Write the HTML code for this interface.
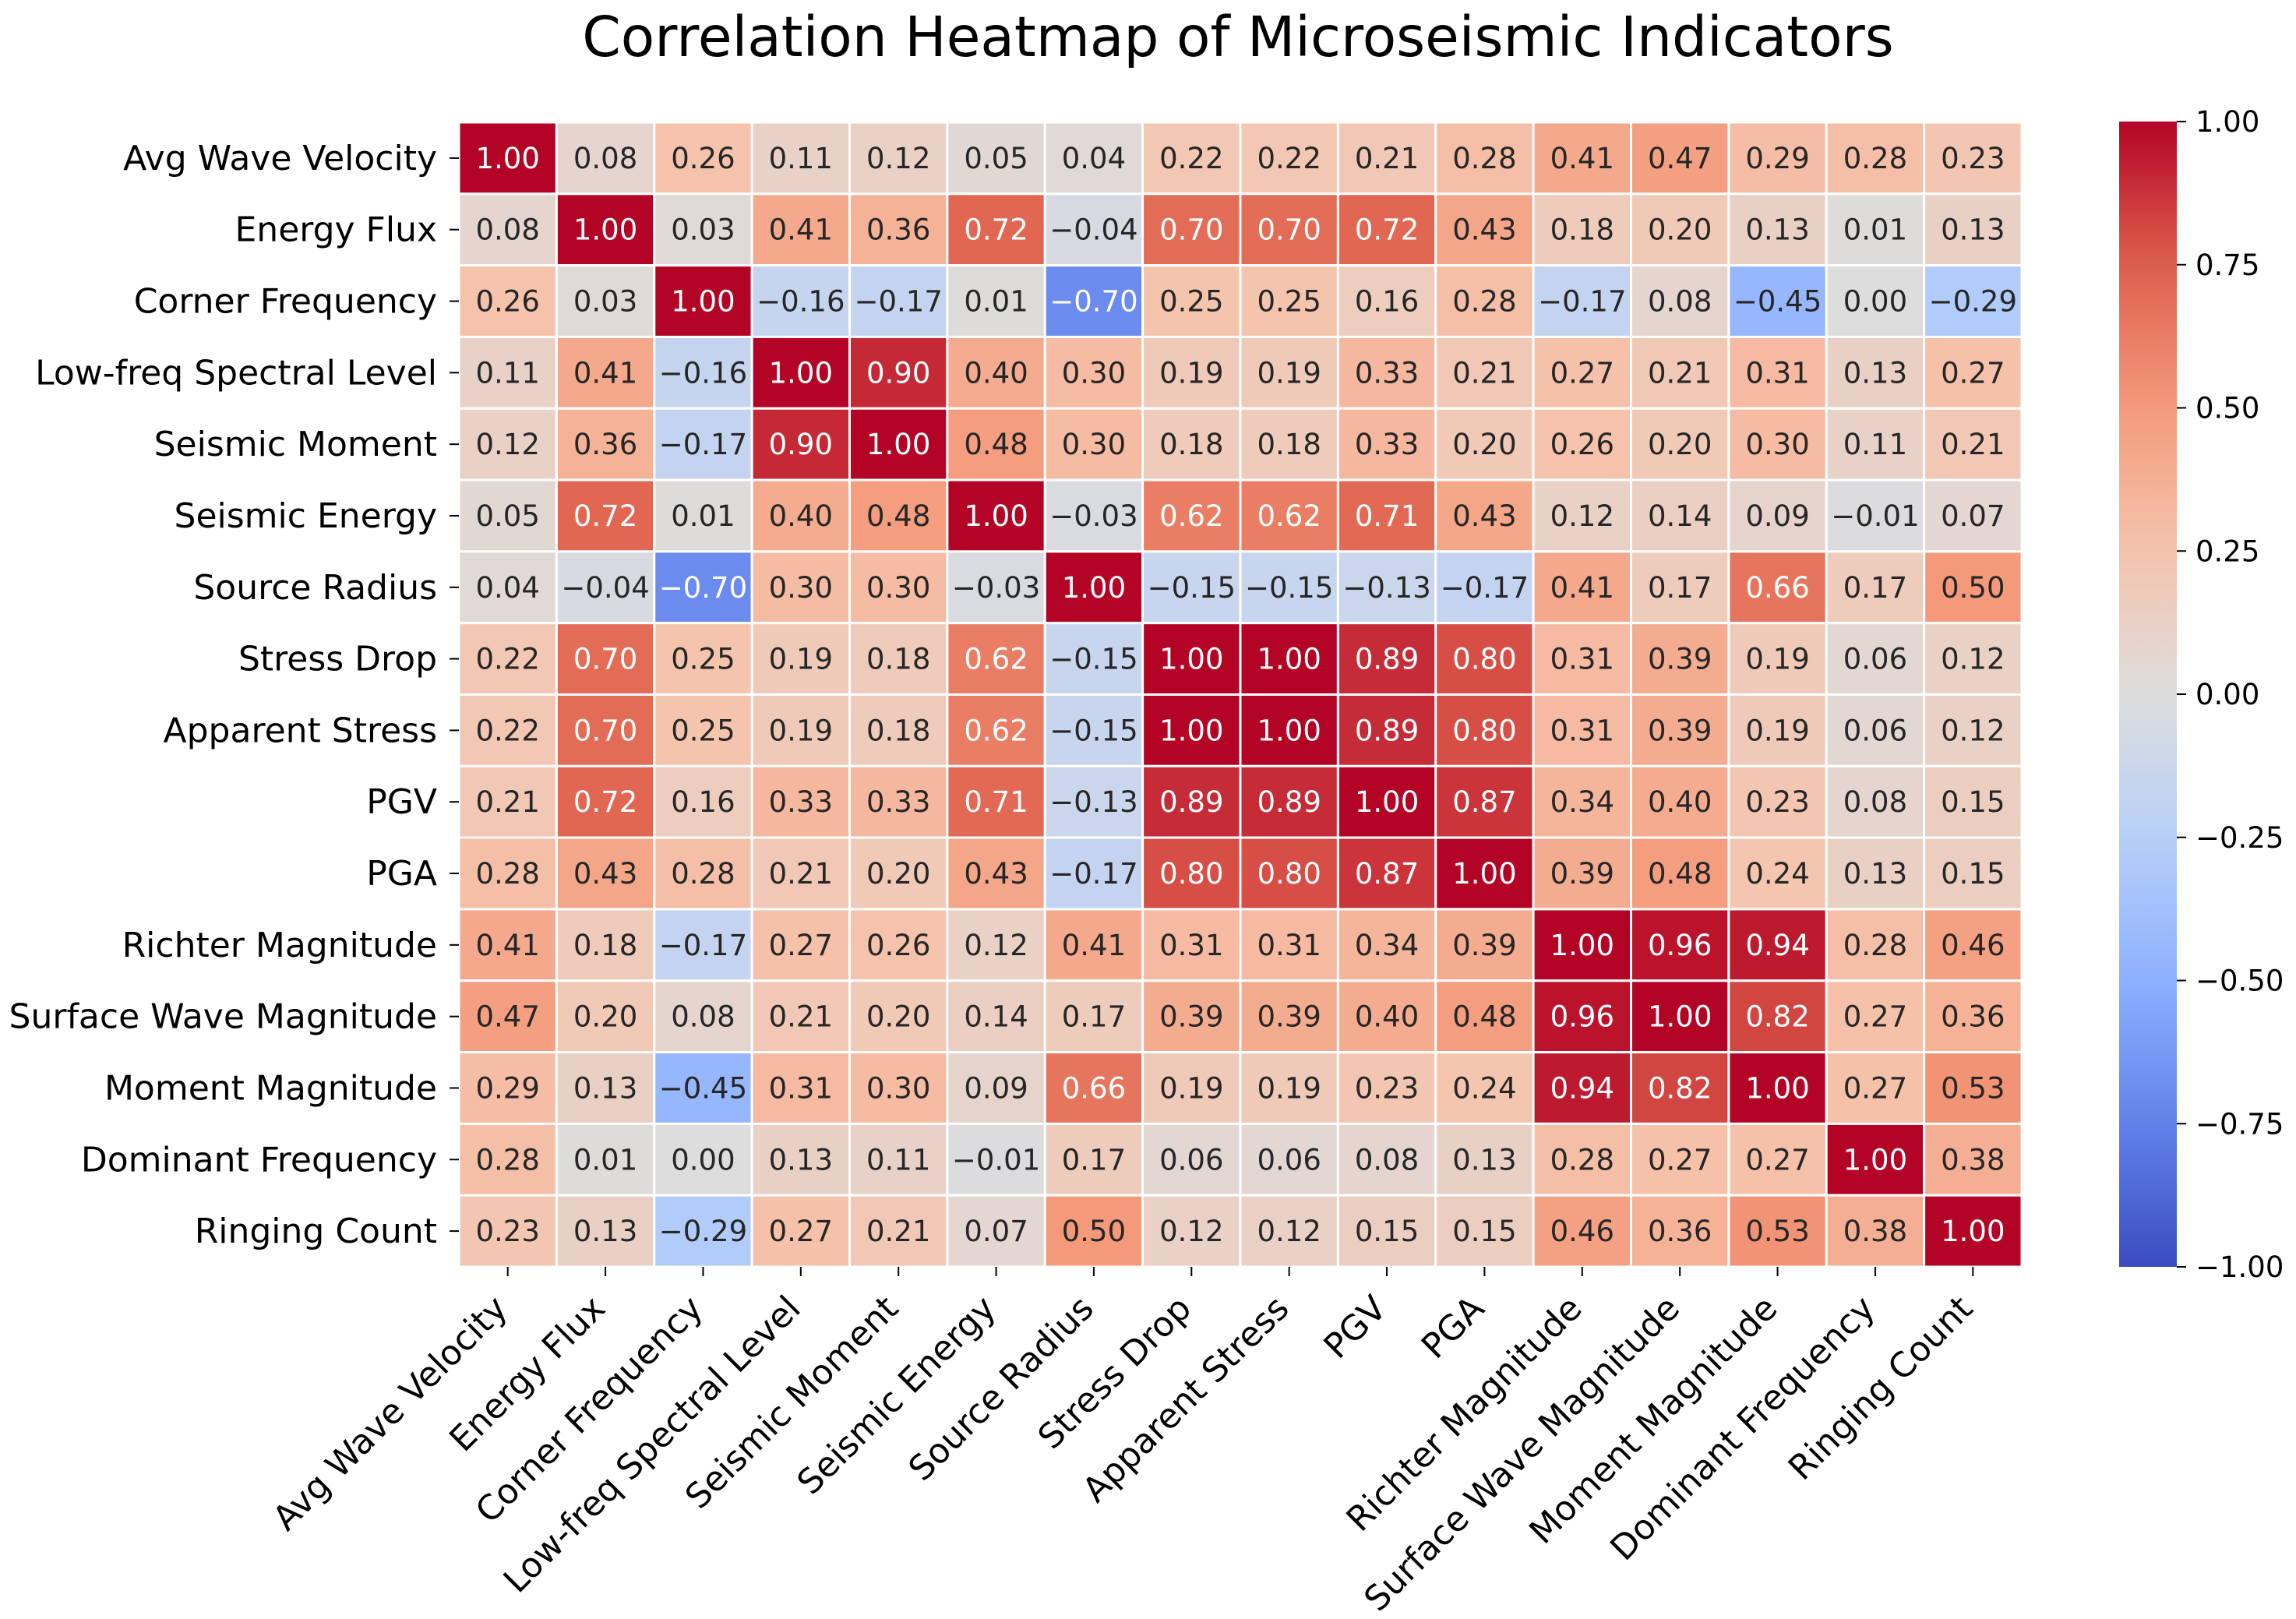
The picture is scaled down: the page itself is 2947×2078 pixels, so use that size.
<!DOCTYPE html>
<html><head><meta charset="utf-8"><style>
html,body{margin:0;padding:0;background:#fff;}
svg{display:block;font-family:"DejaVu Sans","Liberation Sans",sans-serif;}
</style></head><body>
<svg id="chart" width="2947" height="2078" viewBox="0 0 2947 2078" xmlns="http://www.w3.org/2000/svg">
<text x="1589" y="72" font-size="71" text-anchor="middle" fill="#000">Correlation Heatmap of Microseismic Indicators</text>
<g id="cells"></g>
<g id="ylabels"></g>
<g id="xlabels"></g>
<defs><linearGradient id="cbgrad" x1="0" y1="1" x2="0" y2="0"></linearGradient></defs>
<rect x="2720" y="156" width="74" height="1470" fill="url(#cbgrad)"/>
<g id="cbticks"></g>
</svg>
<script>
const labels = ["Avg Wave Velocity","Energy Flux","Corner Frequency","Low-freq Spectral Level","Seismic Moment","Seismic Energy","Source Radius","Stress Drop","Apparent Stress","PGV","PGA","Richter Magnitude","Surface Wave Magnitude","Moment Magnitude","Dominant Frequency","Ringing Count"];
const row0 = [1.00,0.08,0.26,0.11,0.12,0.05,0.04,0.22,0.22,0.21,0.28,0.41,0.47,0.29,0.28,0.23];
const row1 = [0.08,1.00,0.03,0.41,0.36,0.72,-0.04,0.70,0.70,0.72,0.43,0.18,0.20,0.13,0.01,0.13];
const row2 = [0.26,0.03,1.00,-0.16,-0.17,0.01,-0.70,0.25,0.25,0.16,0.28,-0.17,0.08,-0.45,0.00,-0.29];
const row3 = [0.11,0.41,-0.16,1.00,0.90,0.40,0.30,0.19,0.19,0.33,0.21,0.27,0.21,0.31,0.13,0.27];
const row4 = [0.12,0.36,-0.17,0.90,1.00,0.48,0.30,0.18,0.18,0.33,0.20,0.26,0.20,0.30,0.11,0.21];
const row5 = [0.05,0.72,0.01,0.40,0.48,1.00,-0.03,0.62,0.62,0.71,0.43,0.12,0.14,0.09,-0.01,0.07];
const row6 = [0.04,-0.04,-0.70,0.30,0.30,-0.03,1.00,-0.15,-0.15,-0.13,-0.17,0.41,0.17,0.66,0.17,0.50];
const row7 = [0.22,0.70,0.25,0.19,0.18,0.62,-0.15,1.00,1.00,0.89,0.80,0.31,0.39,0.19,0.06,0.12];
const row8 = [0.22,0.70,0.25,0.19,0.18,0.62,-0.15,1.00,1.00,0.89,0.80,0.31,0.39,0.19,0.06,0.12];
const row9 = [0.21,0.72,0.16,0.33,0.33,0.71,-0.13,0.89,0.89,1.00,0.87,0.34,0.40,0.23,0.08,0.15];
const row10 = [0.28,0.43,0.28,0.21,0.20,0.43,-0.17,0.80,0.80,0.87,1.00,0.39,0.48,0.24,0.13,0.15];
const row11 = [0.41,0.18,-0.17,0.27,0.26,0.12,0.41,0.31,0.31,0.34,0.39,1.00,0.96,0.94,0.28,0.46];
const row12 = [0.47,0.20,0.08,0.21,0.20,0.14,0.17,0.39,0.39,0.40,0.48,0.96,1.00,0.82,0.27,0.36];
const row13 = [0.29,0.13,-0.45,0.31,0.30,0.09,0.66,0.19,0.19,0.23,0.24,0.94,0.82,1.00,0.27,0.53];
const row14 = [0.28,0.01,0.00,0.13,0.11,-0.01,0.17,0.06,0.06,0.08,0.13,0.28,0.27,0.27,1.00,0.38];
const row15 = [0.23,0.13,-0.29,0.27,0.21,0.07,0.50,0.12,0.12,0.15,0.15,0.46,0.36,0.53,0.38,1.00];
const matrix = [row0,row1,row2,row3,row4,row5,row6,row7,row8,row9,row10,row11,row12,row13,row14,row15];
const cbTicks = [1.00,0.75,0.50,0.25,0.00,-0.25,-0.50,-0.75,-1.00];

const NS="http://www.w3.org/2000/svg";
const X0=589,Y0=157,X1=2595,Y1=1626;
const n=labels.length, cw=(X1-X0)/n, ch=(Y1-Y0)/n;
const xPos=i=>X0+i*cw, yPos=j=>Y0+j*ch;
const cbY=v=>1626-(v+1)/2*(1626-156);
const stops=[[59,76,192],[98,130,234],[141,176,254],[184,208,249],[221,221,221],[245,196,173],[244,154,123],[222,96,77],[180,4,38]];
function cmap(v){let t=(v+1)/2*(stops.length-1);let i=Math.min(Math.floor(t),stops.length-2);let f=t-i;
 const c=stops[i].map((a,k)=>Math.round(a+(stops[i+1][k]-a)*f));return `rgb(${c[0]},${c[1]},${c[2]})`;}
function fmt(v){const s=Math.abs(v).toFixed(2);return (v<0?"\u2212":"")+s;}
function mk(tag,attrs,parent){const e=document.createElementNS(NS,tag);for(const k in attrs)e.setAttribute(k,attrs[k]);parent.appendChild(e);return e;}
const cells=document.getElementById('cells');
matrix.forEach((row,j)=>row.forEach((v,i)=>{
 const r=mk('rect',{x:xPos(i),y:yPos(j),width:cw,height:ch,fill:cmap(v),stroke:'#fff','stroke-width':3},cells);
 
 
 const t=mk('text',{x:xPos(i)+cw/2,y:yPos(j)+ch/2+13,'font-size':37,'text-anchor':'middle',fill:Math.abs(v)>=0.6?'#fff':'#262626'},cells);
 t.textContent=fmt(v);
 
 
}));
const yl=document.getElementById('ylabels'), xl=document.getElementById('xlabels');
labels.forEach((l,j)=>{
 const cy=yPos(j)+ch/2;
 mk('line',{x1:X0-12,x2:X0,y1:cy,y2:cy,stroke:'#000','stroke-width':2},yl);
 const t=mk('text',{x:X0-28,y:cy+15,'font-size':44,'text-anchor':'end',fill:'#000'},yl);
 t.textContent=l;
 
 
 const cx=xPos(j)+cw/2;
 mk('line',{x1:cx,x2:cx,y1:Y1,y2:Y1+12,stroke:'#000','stroke-width':2},xl);
 const u=mk('text',{'font-size':44,'text-anchor':'end',fill:'#000',transform:`translate(${cx+2},${Y1+56}) rotate(-45)`},xl);
 u.textContent=l;
 
 
});
const grad=document.getElementById('cbgrad');
for(let k=0;k<=20;k++){const v=-1+k/10;mk('stop',{offset:(k/20),'stop-color':cmap(v)},grad);}
const cbt=document.getElementById('cbticks');
cbTicks.forEach(v=>{const y=cbY(v);
 mk('line',{x1:2794,x2:2806,y1:y,y2:y,stroke:'#000','stroke-width':2},cbt);
 const t=mk('text',{x:2818,y:y+13,'font-size':37,fill:'#000'},cbt);
 t.textContent=fmt(v);
 
 
});
</script>
</body></html>
